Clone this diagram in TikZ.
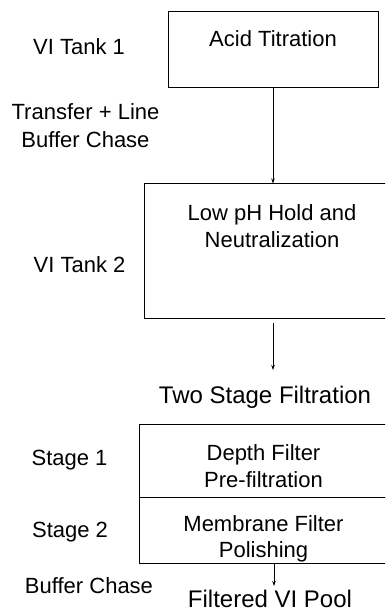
\documentclass[tikz,border=0pt]{standalone}
\usepackage{fontspec}
\setmainfont{Liberation Sans}
\usetikzlibrary{arrows.meta}
\begin{document}
\begin{tikzpicture}[x=1pt,y=-1pt,
  box/.style={draw, line width=1pt, inner sep=0pt},
  lbl/.style={inner sep=0pt, anchor=base, align=center, font=\fontsize{22}{27}\selectfont},
  big/.style={inner sep=0pt, anchor=base, align=center, font=\fontsize{24}{28}\selectfont},
  arr/.style={line width=0.8pt, -{Stealth[length=5pt,width=3.5pt]}}]
\useasboundingbox (0,0) rectangle (385,612);
\clip (0,0) rectangle (385,612);
% boxes
\node[box, minimum width=210pt, minimum height=76pt] (acid) at (273,50) {};
\node[box, minimum width=256pt, minimum height=134pt] (lowph) at (272,251) {};
\node[box, minimum width=249pt, minimum height=73pt] (filt1) at (263.5,460.5) {};
\node[box, minimum width=249pt, minimum height=66pt] (filt2) at (263.5,530) {};
% box texts (anchor = baseline of last line)
\node[lbl] (tacid) at (273,47) {Acid Titration};
\node[lbl] (tlowph) at (272,247) {Low pH Hold and\\Neutralization};
\node[lbl] (tfilt1) at (263.5,487) {Depth Filter\\Pre-filtration};
\node[lbl, font=\fontsize{22}{25.5}\selectfont] (tfilt2) at (263.5,557) {Membrane Filter\\Polishing};
% side labels
\node[lbl] (tank1) at (79,55) {VI Tank 1};
\node[lbl, font=\fontsize{22}{28}\selectfont] (transfer) at (85.5,148) {Transfer + Line\\Buffer Chase};
\node[lbl] (tank2) at (79.5,272) {VI Tank 2};
\node[lbl] (stage1) at (69.5,465) {Stage 1};
\node[lbl] (stage2) at (70,537) {Stage 2};
\node[lbl] (chase) at (89,593) {Buffer Chase};
\node[big] (twostage) at (265,403) {Two Stage Filtration};
\node[big] (pool) at (270,607) {Filtered VI Pool};
% connectors
\coordinate (a2s) at (273,323);
\coordinate (a2e) at (273,370);
\coordinate (a3e) at (274,586);
\draw[arr] (acid.south) -- (acid.south |- lowph.north);
\draw[arr] (a2s) -- (a2e);
\draw[arr] (filt2.south -| a3e) -- (a3e);
\end{tikzpicture}
\end{document}
